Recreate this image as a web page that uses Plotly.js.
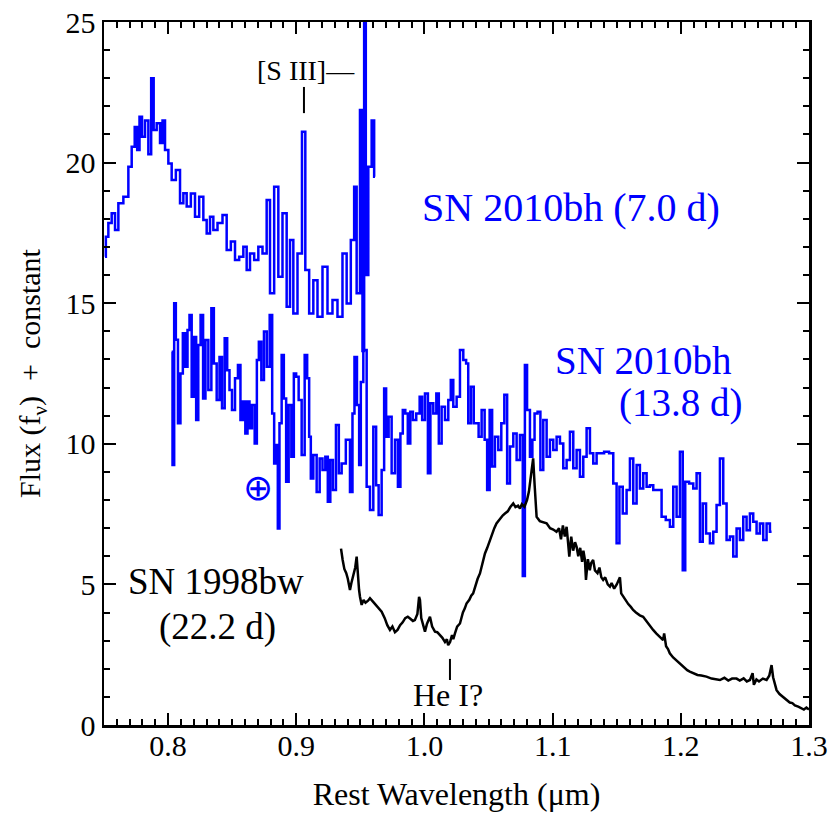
<!DOCTYPE html>
<html>
<head>
<meta charset="utf-8">
<script src="https://cdn.plot.ly/plotly-3.0.1.min.js"></script>
<style>
  body { margin: 0; background: white; }
  #graph { width: 830px; height: 830px; }
</style>
</head>
<body>
<div id="graph"></div>
<script>
"use strict";

// SN 2010bh, 7.0 d (flux + constant)
var wave_07 = [0.7508,0.7521,0.7547,0.7573,0.7599,0.7625,0.7677,0.7703,0.7729,0.7750,0.7768,0.7786,0.7807,0.7833,0.7859,0.7877,0.7898,0.7924,0.7950,0.7963,0.7989,0.8015,0.8041,0.8080,0.8106,0.8132,0.8158,0.8197,0.8223,0.8262,0.8288,0.8314,0.8340,0.8366,0.8405,0.8444,0.8470,0.8509,0.8535,0.8574,0.8600,0.8626,0.8652,0.8691,0.8717,0.8756,0.8782,0.8808,0.8847,0.8873,0.8912,0.8938,0.8964,0.8990,0.9029,0.9060,0.9081,0.9120,0.9146,0.9185,0.9224,0.9263,0.9302,0.9341,0.9380,0.9406,0.9445,0.9458,0.9484,0.9510,0.9523,0.9536,0.9549,0.9575,0.9601,0.9614];
var flux_07 = [16.65,17.36,17.85,18.2,17.6,18.55,18.79,19.85,20.56,21.27,20.45,21.63,20.92,21.5,20.3,23.0,21.16,21.4,20.7,21.5,20.45,19.97,19.38,19.74,18.55,18.91,18.44,18.9,18.07,18.79,17.96,17.48,18.07,17.6,17.85,18.14,16.89,17.19,16.54,16.65,17.01,16.18,16.77,16.54,17.01,16.77,18.67,15.35,19.14,15.94,18.2,14.87,17.25,14.63,16.77,21.1,16.18,14.63,15.82,14.52,16.3,14.63,15.11,14.52,16.77,14.99,17.25,19.14,15.35,21.87,13.3,25.8,16.0,19.85,21.5,19.5];

// SN 2010bh, 13.8 d
var wave_13 = [0.8028,0.8041,0.8054,0.8067,0.8087,0.8106,0.8124,0.8145,0.8158,0.8176,0.8192,0.8210,0.8228,0.8243,0.8264,0.8282,0.8301,0.8327,0.8348,0.8366,0.8392,0.8410,0.8431,0.8452,0.8470,0.8488,0.8509,0.8535,0.8555,0.8574,0.8592,0.8613,0.8626,0.8644,0.8665,0.8686,0.8699,0.8717,0.8738,0.8758,0.8782,0.8803,0.8821,0.8834,0.8852,0.8860,0.8878,0.8894,0.8912,0.8930,0.8951,0.8972,0.8990,0.9008,0.9029,0.9055,0.9076,0.9094,0.9107,0.9120,0.9146,0.9172,0.9193,0.9216,0.9237,0.9255,0.9276,0.9296,0.9323,0.9341,0.9367,0.9406,0.9432,0.9445,0.9463,0.9484,0.9497,0.9510,0.9536,0.9562,0.9588,0.9614,0.9632,0.9653,0.9679,0.9692,0.9710,0.9731,0.9757,0.9783,0.9803,0.9822,0.9840,0.9861,0.9879,0.9900,0.9920,0.9952,0.9973,0.9991,1.0017,1.0037,1.0056,1.0082,1.0103,1.0121,1.0147,1.0173,1.0199,1.0212,1.0238,1.0264,1.0290,1.0316,1.0334,1.0349,1.0376,1.0393,1.0412,1.0433,1.0459,1.0480,1.0498,1.0519,1.0537,1.0563,1.0589,1.0610,1.0636,1.0654,1.0680,1.0706,1.0732,1.0758,1.0776,1.0791,1.0810,1.0836,1.0848,1.0870,1.0895,1.0914,1.0940,1.0966,1.0992,1.1018,1.1044,1.1070,1.1096,1.1122,1.1148,1.1174,1.1200,1.1226,1.1252,1.1278,1.1304,1.1330,1.1356,1.1382,1.1421,1.1460,1.1486,1.1512,1.1530,1.1564,1.1590,1.1616,1.1642,1.1668,1.1694,1.1720,1.1746,1.1772,1.1798,1.1837,1.1863,1.1902,1.1928,1.1954,1.1980,1.2006,1.2024,1.2045,1.2084,1.2110,1.2136,1.2162,1.2180,1.2214,1.2240,1.2266,1.2292,1.2318,1.2344,1.2370,1.2396,1.2422,1.2448,1.2474,1.2500,1.2526,1.2552,1.2578,1.2604,1.2630,1.2656,1.2682,1.2708];
var flux_13 = [13.27,9.25,15.0,13.7,10.73,12.5,13.93,12.74,14.05,14.58,11.67,13.8,10.85,13.51,14.58,11.61,13.69,11.91,14.82,12.86,11.56,13.09,11.26,13.75,12.62,11.91,11.2,12.33,12.8,10.85,11.5,10.37,11.5,10.55,11.38,10.01,12.98,13.63,12.27,13.99,12.74,14.58,11.08,9.3,9.96,6.99,10.73,13.16,11.61,8.65,11.38,9.54,12.5,12.38,11.56,9.6,13.16,12.33,10.25,8.77,9.6,8.29,9.48,9.07,9.54,7.94,9.42,8.36,10.67,8.95,9.3,10.14,8.29,11.08,13.09,11.38,9.25,12.2,13.34,8.47,7.65,10.61,8.53,7.47,9.07,11.97,10.25,10.96,8.95,10.14,8.47,10.37,11.2,11.08,10.01,11.14,10.85,11.08,11.67,10.85,11.79,8.95,11.44,11.08,11.79,10.01,11.32,10.85,11.56,12.27,11.32,11.67,13.34,12.98,12.86,10.73,12.03,10.73,10.73,10.25,11.2,10.14,8.36,11.2,9.19,10.25,9.78,10.73,11.74,8.59,9.9,10.37,9.42,10.31,5.3,12.8,11.2,9.54,10.14,11.08,11.14,9.07,10.85,9.54,10.14,9.78,10.25,10.01,9.13,9.42,10.43,9.13,9.78,8.83,9.54,10.55,9.66,9.3,9.66,9.66,9.72,9.66,8.59,6.46,8.47,7.52,8.36,9.48,7.88,9.25,8.41,8.95,8.47,8.53,8.36,8.36,7.41,7.29,7.05,8.47,7.41,9.72,5.5,8.65,8.59,8.41,8.95,6.52,7.88,6.81,6.46,6.87,7.82,9.48,7.88,6.58,6.7,5.99,6.99,6.58,7.41,6.93,7.52,7.23,6.81,7.17,6.58,7.17,6.87];

// SN 1998bw, 22.2 d
var wave_bw = [0.9349,0.9355,0.9362,0.9375,0.9390,0.9402,0.9419,0.9430,0.9445,0.9460,0.9471,0.9480,0.9490,0.9497,0.9510,0.9525,0.9540,0.9560,0.9575,0.9600,0.9625,0.9645,0.9666,0.9690,0.9710,0.9731,0.9750,0.9770,0.9790,0.9810,0.9830,0.9850,0.9870,0.9890,0.9910,0.9925,0.9945,0.9958,0.9965,0.9975,0.9990,1.0004,1.0020,1.0043,1.0060,1.0082,1.0100,1.0120,1.0140,1.0160,1.0175,1.0185,1.0200,1.0215,1.0225,1.0238,1.0255,1.0277,1.0300,1.0315,1.0328,1.0350,1.0365,1.0380,1.0400,1.0415,1.0433,1.0450,1.0472,1.0490,1.0511,1.0530,1.0545,1.0562,1.0590,1.0610,1.0628,1.0650,1.0670,1.0693,1.0710,1.0730,1.0745,1.0760,1.0780,1.0800,1.0815,1.0830,1.0848,1.0860,1.0875,1.0900,1.0925,1.0953,1.0980,1.1005,1.1030,1.1050,1.1065,1.1080,1.1095,1.1109,1.1120,1.1130,1.1145,1.1160,1.1175,1.1187,1.1200,1.1215,1.1230,1.1240,1.1252,1.1260,1.1275,1.1290,1.1300,1.1316,1.1330,1.1350,1.1365,1.1380,1.1394,1.1410,1.1430,1.1447,1.1460,1.1480,1.1500,1.1515,1.1525,1.1535,1.1560,1.1590,1.1610,1.1628,1.1650,1.1680,1.1706,1.1730,1.1760,1.1784,1.1810,1.1840,1.1862,1.1870,1.1885,1.1900,1.1914,1.1940,1.1965,1.1992,1.2020,1.2050,1.2070,1.2097,1.2130,1.2160,1.2200,1.2240,1.2270,1.2305,1.2340,1.2370,1.2400,1.2435,1.2460,1.2490,1.2515,1.2539,1.2560,1.2570,1.2590,1.2610,1.2640,1.2669,1.2690,1.2700,1.2708,1.2720,1.2735,1.2747,1.2770,1.2800,1.2825,1.2850,1.2870,1.2890,1.2916,1.2940,1.2960,1.2980,1.3000];
var flux_bw = [6.27,6.0,5.87,5.55,5.4,5.2,4.80,5.05,5.3,5.6,5.99,5.3,4.8,4.56,4.27,4.45,4.35,4.42,4.51,4.38,4.25,4.12,4.03,3.8,3.55,3.38,3.5,3.3,3.38,3.55,3.65,3.8,3.85,3.78,3.7,3.73,3.95,4.56,4.45,3.8,3.55,3.32,3.6,3.85,3.5,3.32,3.3,3.2,3.1,2.95,3.05,2.84,2.95,3.2,3.05,3.26,3.5,3.61,4.0,4.15,4.32,4.45,4.6,4.68,5.0,5.2,5.39,5.7,6.1,6.3,6.58,6.85,7.0,7.17,7.35,7.45,7.52,7.6,7.75,7.88,7.75,7.8,7.7,7.85,7.76,8.0,8.3,8.8,9.48,8.5,7.4,7.25,7.2,7.17,7.0,6.95,6.87,7.0,6.6,7.1,6.7,7.05,6.5,5.99,6.7,6.2,6.5,6.34,6.0,6.3,5.8,6.2,5.87,5.16,5.9,5.5,5.75,5.87,5.5,5.4,5.6,5.25,5.16,5.25,5.0,4.92,5.05,4.85,5.0,5.16,5.25,4.68,4.5,4.3,4.2,4.09,4.0,3.9,3.85,3.7,3.5,3.38,3.25,3.1,3.02,3.26,2.8,2.7,2.55,2.4,2.3,2.19,2.05,1.95,1.9,1.84,1.78,1.76,1.72,1.65,1.62,1.6,1.68,1.58,1.65,1.65,1.58,1.66,1.55,1.6,1.84,1.43,1.62,1.55,1.65,1.6,1.75,2.0,2.13,1.7,1.4,1.24,1.1,0.98,0.89,0.8,0.78,0.7,0.65,0.6,0.55,0.62,0.55];

var serif = "Liberation Serif, Times New Roman, serif";

var trace_07 = {
  x: wave_07, y: flux_07, mode: 'lines',
  line: {color: '#0000ff', width: 2.5, shape: 'hvh'}
};
var trace_13 = {
  x: wave_13, y: flux_13, mode: 'lines',
  line: {color: '#0000ff', width: 2.5, shape: 'hvh'}
};
var trace_bw = {
  x: wave_bw, y: flux_bw, mode: 'lines',
  line: {color: '#000000', width: 2.5}
};

// petits labels sur la figure
var notes = [
  {x: 1.1143, y: 18.42, text: 'SN 2010bh (7.0 d)', color: '#0000ff', size: 40},
  {x: 1.1712, y: 12.98, text: 'SN 2010bh', color: '#0000ff', size: 39},
  {x: 1.1997, y: 11.45, text: '(13.8 d)', color: '#0000ff', size: 39},
  {x: 0.8374, y: 5.09, text: 'SN 1998bw', color: '#000000', size: 37},
  {x: 0.8389, y: 3.49, text: '(22.2 d)', color: '#000000', size: 37},
  {x: 0.9072, y: 23.26, text: '[S III]\u2014', color: '#000000', size: 28},
  {x: 1.0183, y: 1.07, text: 'He I?', color: '#000000', size: 32},
  {x: 0.8704, y: 8.42, text: '\u2295', color: '#0000ff', size: 36}
];

var annotations = notes.map(function(n) {
  return {
    x: n.x, y: n.y, xref: 'x', yref: 'y', text: n.text, showarrow: false,
    font: {family: serif, size: n.size, color: n.color}
  };
});

// traits verticaux sous [S III] et He I
var shapes = [
  {type: 'line', xref: 'x', yref: 'y', x0: 0.906, x1: 0.906, y0: 22.69, y1: 21.76, line: {color: 'black', width: 2}},
  {type: 'line', xref: 'x', yref: 'y', x0: 1.0199, x1: 1.0199, y0: 2.35, y1: 1.6, line: {color: 'black', width: 2}}
];

var axis_common = {
  showgrid: false, zeroline: false,
  showline: true, linecolor: 'black', linewidth: 2.5, mirror: 'allticks',
  ticks: 'inside', ticklen: 12, tickwidth: 2, tickcolor: 'black',
  tickfont: {family: serif, size: 30, color: 'black'}
};

var layout = {
  width: 830, height: 830,
  margin: {l: 104, r: 21, t: 22, b: 105},
  paper_bgcolor: 'white', plot_bgcolor: 'white',
  showlegend: false,
  xaxis: Object.assign({}, axis_common, {
    range: [0.75, 1.3], tickvals: [0.8, 0.9, 1.0, 1.1, 1.2, 1.3],
    ticktext: ['0.8', '0.9', '1.0', '1.1', '1.2', '1.3'],
    ticklabelstandoff: -8,
    minor: {dtick: 0.01, tick0: 0.75, ticks: 'inside', ticklen: 6, tickwidth: 2, tickcolor: 'black'},
    title: {text: 'Rest Wavelength (\u03bcm)', font: {family: serif, size: 32, color: 'black'}, standoff: 22}
  }),
  yaxis: Object.assign({}, axis_common, {
    range: [0, 25], dtick: 5, tick0: 0,
    minor: {dtick: 1, ticks: 'inside', ticklen: 6, tickwidth: 2, tickcolor: 'black'},
    title: {text: 'Flux (f<sub>\u03bd</sub>)\u00a0\u00a0+\u00a0\u00a0constant', font: {family: serif, size: 30, color: 'black'}, standoff: 16}
  }),
  annotations: annotations,
  shapes: shapes
};

Plotly.newPlot('graph', [trace_07, trace_13, trace_bw], layout, {staticPlot: true});
</script>
</body>
</html>
